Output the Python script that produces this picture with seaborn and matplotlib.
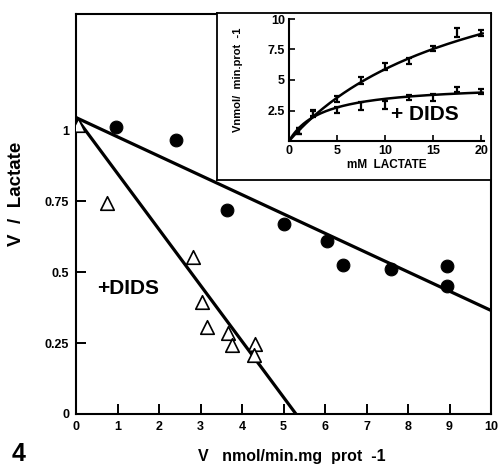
import matplotlib
matplotlib.use("Agg")
import matplotlib.pyplot as plt
import seaborn as sns
import numpy as np
import pandas as pd

# Eadie-Hofstee plot (main)
ctrl_v = [0.97, 2.42, 3.65, 5.0, 6.06, 6.43, 7.58, 8.94, 8.94]
ctrl_vs = [1.01, 0.965, 0.72, 0.67, 0.61, 0.525, 0.51, 0.52, 0.45]
dids_v = [0.05, 0.75, 2.83, 3.04, 3.16, 3.67, 3.77, 4.32, 4.28]
dids_vs = [1.02, 0.745, 0.553, 0.394, 0.306, 0.285, 0.243, 0.246, 0.208]

# fitted lines (end points)
ctrl_line_x = [0, 10]
ctrl_line_y = [1.045, 0.365]
dids_line_x = [0, 5.3]
dids_line_y = [1.045, 0.0]

# inset: rate vs lactate
lactate = [1, 2.5, 5, 7.5, 10, 12.5, 15, 17.5, 20]
ctrl_rate = [0.8, 2.26, 3.45, 4.96, 6.1, 6.53, 7.55, 8.9, 8.87]
ctrl_err = [0.25, 0.25, 0.25, 0.25, 0.3, 0.25, 0.2, 0.35, 0.25]
dids_rate = [0.8, 2.2, 2.53, 2.87, 2.95, 3.55, 3.55, 4.24, 4.05]
dids_err = [0.25, 0.25, 0.25, 0.3, 0.3, 0.2, 0.3, 0.2, 0.2]

# Michaelis-Menten fit parameters
ctrl_vmax, ctrl_km = 17.25, 19.3
dids_vmax, dids_km = 4.66, 3.48

main_xticks = list(range(0, 11))
main_yticks = [0, 0.25, 0.5, 0.75, 1]
main_yticklabels = ["0", "0.25", "0.5", "0.75", "1"]
inset_xticks = [0, 5, 10, 15, 20]
inset_yticks = [2.5, 5, 7.5, 10]
inset_yticklabels = ["2.5", "5", "7.5", "10"]

sns.set_style("ticks")
plt.rcParams["font.family"] = ["Liberation Sans", "DejaVu Sans"]
plt.rcParams["font.weight"] = "bold"
for key in ["text.color", "axes.labelcolor", "xtick.color", "ytick.color", "axes.edgecolor"]:
    plt.rcParams[key] = "black"

W, H = 500, 467
fig = plt.figure(figsize=(5, 4.67), dpi=100)

ax = fig.add_axes([76 / W, 53 / H, 415 / W, 400 / H])
sns.lineplot(x=ctrl_line_x, y=ctrl_line_y, ax=ax, color="black", lw=2.3)
sns.lineplot(x=dids_line_x, y=dids_line_y, ax=ax, color="black", lw=2.3)
sns.scatterplot(x=ctrl_v, y=ctrl_vs, ax=ax, color="black", s=85, marker="o",
                edgecolor="black", zorder=3)
sns.scatterplot(x=dids_v, y=dids_vs, ax=ax, marker="^", s=95, facecolor="white",
                edgecolor="black", linewidth=1.2, zorder=3)
ax.set_xlim(0, 10)
ax.set_ylim(0, 1.41)
ax.set_xticks(main_xticks)
ax.set_xticklabels([str(t) for t in main_xticks])
ax.set_yticks(main_yticks)
ax.set_yticklabels(main_yticklabels)
ax.tick_params(direction="in", length=7, width=1.4, labelsize=9, pad=5)
for sp in ax.spines.values():
    sp.set_linewidth(1.5)
    sp.set_visible(True)
ax.set_xlabel("")
ax.set_ylabel("")
ax.text(0.5, 0.444, "+DIDS", fontsize=15, fontweight="bold", va="center", ha="left")

fig.text(17 / W, 1 - 194 / H, "V  /  Lactate", rotation=90, fontsize=13.5,
         fontweight="bold", ha="center", va="center")
fig.text(292 / W, 1 - 456 / H, "V   nmol/min.mg  prot  -1", fontsize=11.5,
         fontweight="bold", ha="center", va="center")
fig.text(19 / W, 1 - 454 / H, "4", fontsize=18, fontweight="bold",
         ha="center", va="center")

# inset frame
box = fig.add_axes([217 / W, (H - 180) / H, (491 - 217) / W, (180 - 13) / H])
box.set_xticks([])
box.set_yticks([])
box.set_facecolor("white")
for sp in box.spines.values():
    sp.set_linewidth(1.3)
    sp.set_visible(True)

ins = fig.add_axes([289 / W, (H - 141) / H, (484 - 289) / W, (141 - 19) / H])
ins.patch.set_alpha(0)
s_fit = np.linspace(0, 20.2, 200)
sns.lineplot(x=s_fit, y=ctrl_vmax * s_fit / (ctrl_km + s_fit), ax=ins, color="black", lw=1.8)
sns.lineplot(x=s_fit, y=dids_vmax * s_fit / (dids_km + s_fit), ax=ins, color="black", lw=1.8)
ins.errorbar(lactate, ctrl_rate, yerr=ctrl_err, fmt="none", ecolor="black",
             elinewidth=1.6, capsize=2.5, capthick=1.6)
ins.errorbar(lactate, dids_rate, yerr=dids_err, fmt="none", ecolor="black",
             elinewidth=1.6, capsize=2.5, capthick=1.6)
ins.set_xlim(0, 20.3)
ins.set_ylim(0, 10)
ins.set_xticks(inset_xticks)
ins.set_xticklabels([str(t) for t in inset_xticks])
ins.set_yticks(inset_yticks)
ins.set_yticklabels(inset_yticklabels)
ins.tick_params(direction="in", length=4, width=1.2, labelsize=9, pad=3)
sns.despine(ax=ins)
ins.spines["left"].set_linewidth(1.5)
ins.spines["bottom"].set_linewidth(1.5)
ins.set_xlabel("mM  LACTATE", fontsize=8.5, fontweight="bold", labelpad=1)
ins.set_ylabel("Vnmol/  min.prot  -1", fontsize=8, fontweight="bold")
ins.yaxis.set_label_coords(-0.235, 0.5)
ins.text(10.6, 2.15, "+ DIDS", fontsize=15, fontweight="bold", va="center", ha="left")

fig.savefig("out.png", dpi=100)
